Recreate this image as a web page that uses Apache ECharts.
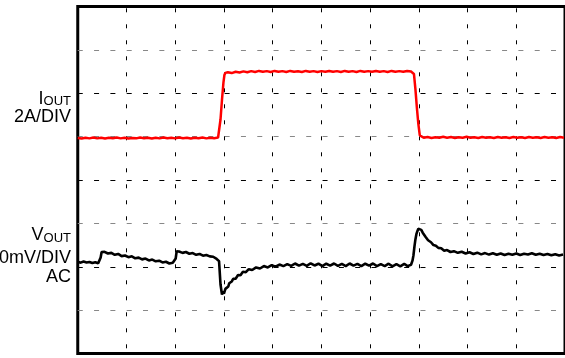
<!DOCTYPE html>
<html>
<head>
<meta charset="utf-8">
<title>Load transient</title>
<script src="https://cdn.jsdelivr.net/npm/echarts@6/dist/echarts.min.js"></script>
<style>
  html, body { margin: 0; padding: 0; background: #fff; }
  #chart { width: 565px; height: 358px; }
</style>
</head>
<body>
<div id="chart"></div>
<script>
// Time axis is in screen divisions (10 across), vertical axis in divisions (8 high).
const TIME_DIVS = 10;
const VERT_DIVS = 8;

// Channel scales and the division each channel's zero sits on.
const AMPS_PER_DIV = 2;      // I_OUT 2A/DIV
const MV_PER_DIV = 20;       // V_OUT 20mV/DIV, AC coupled
const IOUT_ZERO_DIV = 4.97;
const VOUT_ZERO_DIV = 2.29;

// Output current, [time (div), current (A)]
const ioutSamples = [
  [0.00,0.00],[0.08,-0.03],[0.16,0.01],[0.24,-0.02],[0.32,0.02],[0.40,-0.02],[0.48,0.01],
  [0.56,-0.03],[0.64,0.01],[0.72,-0.01],[0.80,0.02],[0.88,-0.02],[0.96,0.01],[1.04,-0.03],
  [1.12,0.00],[1.20,-0.02],[1.28,0.02],[1.36,-0.01],[1.44,0.01],[1.52,-0.03],[1.60,0.01],
  [1.68,-0.02],[1.76,0.02],[1.84,-0.01],[1.92,0.01],[2.00,-0.02],[2.08,0.02],[2.16,-0.01],
  [2.24,0.01],[2.32,-0.03],[2.40,0.01],[2.48,-0.01],[2.56,0.02],[2.64,-0.02],[2.72,0.01],
  [2.80,-0.01],[2.88,0.02],
  [2.90,0.05],[2.93,0.85],[2.96,1.75],[2.99,2.55],[3.01,2.90],[3.03,3.00],
  [3.08,3.03],[3.16,2.99],[3.24,3.05],[3.32,3.02],[3.40,3.07],[3.48,3.03],[3.56,3.08],
  [3.64,3.04],[3.72,3.09],[3.80,3.05],[3.88,3.08],[3.96,3.04],[4.04,3.09],[4.12,3.05],
  [4.20,3.08],[4.28,3.04],[4.36,3.09],[4.44,3.05],[4.52,3.07],[4.60,3.04],[4.68,3.09],
  [4.76,3.05],[4.84,3.08],[4.92,3.04],[5.00,3.08],[5.08,3.05],[5.16,3.09],[5.24,3.05],
  [5.32,3.08],[5.40,3.04],[5.48,3.09],[5.56,3.05],[5.64,3.08],[5.72,3.04],[5.80,3.09],
  [5.88,3.05],[5.96,3.08],[6.04,3.05],[6.12,3.09],[6.20,3.05],[6.28,3.08],[6.36,3.04],
  [6.44,3.09],[6.52,3.05],[6.60,3.08],[6.68,3.05],[6.76,3.09],[6.84,3.06],[6.87,3.07],
  [6.90,2.95],[6.93,2.25],[6.96,1.40],[6.99,0.65],[7.02,0.12],[7.04,0.04],
  [7.10,0.01],[7.18,0.04],[7.26,0.00],[7.34,0.03],[7.42,0.01],[7.50,0.05],[7.58,0.01],
  [7.66,0.04],[7.74,0.00],[7.82,0.03],[7.90,0.01],[7.98,0.05],[8.06,0.01],[8.14,0.03],
  [8.22,0.00],[8.30,0.04],[8.38,0.01],[8.46,0.03],[8.54,0.00],[8.62,0.04],[8.70,0.01],
  [8.78,0.03],[8.86,0.00],[8.94,0.04],[9.02,0.01],[9.10,0.03],[9.18,0.00],[9.26,0.04],
  [9.34,0.01],[9.42,0.03],[9.50,0.00],[9.58,0.04],[9.66,0.01],[9.74,0.03],[9.82,0.00],
  [9.90,0.04],[9.98,0.01]
];

// Output voltage deviation, [time (div), voltage (mV)]
const voutSamples = [
  [0.00,-3.5],[0.03,-3.0],[0.06,-3.9],[0.09,-3.3],[0.12,-3.4],[0.15,-4.0],[0.18,-3.8],
  [0.21,-3.2],[0.24,-3.6],[0.27,-4.3],[0.30,-4.1],[0.33,-3.5],[0.36,-3.7],[0.39,-4.4],
  [0.42,-4.2],[0.45,-4.0],[0.47,-1.5],[0.49,1.0],
  [0.52,1.6],[0.55,1.1],[0.58,0.5],[0.62,0.3],[0.65,1.0],[0.69,0.6],[0.72,-0.1],
  [0.76,-0.3],[0.79,0.5],[0.83,0.1],[0.86,-0.6],[0.90,-0.9],[0.93,-0.2],[0.97,-0.6],
  [1.00,-1.3],[1.04,-1.4],[1.07,-0.7],[1.11,-1.0],[1.14,-1.8],[1.18,-1.9],[1.21,-1.2],
  [1.25,-1.6],[1.28,-2.3],[1.32,-2.4],[1.35,-1.7],[1.39,-2.0],[1.42,-2.8],[1.46,-2.9],
  [1.49,-2.2],[1.53,-2.5],[1.56,-3.3],[1.60,-3.3],[1.63,-2.6],[1.67,-3.0],[1.70,-3.7],
  [1.74,-3.8],[1.77,-3.1],[1.81,-3.5],[1.84,-4.2],[1.88,-4.3],[1.91,-3.7],[1.95,-4.0],
  [1.99,-4.6],[2.01,-2.0],[2.03,1.3],
  [2.06,1.7],[2.08,1.2],[2.12,0.9],[2.15,0.6],[2.18,1.3],[2.22,1.0],[2.25,0.4],
  [2.29,0.2],[2.32,0.9],[2.36,0.5],[2.39,-0.2],[2.43,-0.3],[2.46,0.4],[2.50,0.1],
  [2.53,-0.6],[2.57,-0.7],[2.60,0.0],[2.64,-0.4],[2.67,-1.1],[2.71,-1.0],[2.74,-0.6],
  [2.78,-1.2],[2.81,-1.9],[2.85,-2.2],[2.88,-2.6],
  [2.90,-3.2],[2.93,-14.0],[2.96,-18.6],[2.98,-17.2],[3.00,-18.2],[3.03,-16.0],
  [3.05,-16.6],[3.07,-15.2],[3.09,-14.9],[3.11,-13.4],[3.13,-13.8],[3.16,-12.6],
  [3.19,-11.4],[3.21,-11.0],[3.24,-11.3],[3.26,-10.5],[3.29,-9.6],[3.31,-9.3],
  [3.34,-9.7],[3.36,-8.9],[3.39,-8.1],[3.42,-7.8],[3.45,-8.3],[3.48,-7.6],[3.51,-6.9],
  [3.55,-6.6],[3.58,-7.3],[3.62,-6.8],[3.66,-6.1],[3.70,-5.9],[3.74,-6.6],[3.78,-6.2],
  [3.82,-5.5],[3.86,-5.4],[3.90,-6.1],[3.94,-5.8],[3.98,-5.1],[4.02,-5.0],[4.06,-5.8],
  [4.10,-5.5],[4.14,-4.8],
  [4.18,-4.6],[4.22,-5.5],[4.26,-5.3],[4.30,-4.6],[4.34,-4.5],[4.38,-5.4],[4.42,-5.1],
  [4.46,-4.3],[4.50,-4.4],[4.54,-5.3],[4.58,-5.2],[4.62,-4.5],[4.66,-4.6],[4.70,-5.4],
  [4.74,-5.0],[4.78,-4.2],[4.82,-4.3],[4.86,-5.2],[4.90,-5.1],[4.94,-4.4],[4.98,-4.6],
  [5.02,-5.5],[5.06,-5.3],[5.10,-4.4],[5.14,-4.5],[5.18,-5.3],[5.22,-5.0],[5.26,-4.3],
  [5.30,-4.4],[5.34,-5.4],[5.38,-5.2],[5.42,-4.5],[5.46,-4.7],[5.50,-5.5],[5.54,-5.1],
  [5.58,-4.3],[5.62,-4.4],[5.66,-5.3],[5.70,-5.2],[5.74,-4.5],[5.78,-4.6],[5.82,-5.5],
  [5.86,-5.3],[5.90,-4.4],[5.94,-4.5],[5.98,-5.3],[6.02,-5.0],[6.06,-4.3],[6.10,-4.6],
  [6.14,-5.5],[6.18,-5.4],[6.22,-4.6],[6.26,-4.7],[6.30,-5.5],[6.34,-5.2],[6.38,-4.4],
  [6.42,-4.6],[6.46,-5.6],[6.50,-5.4],[6.54,-4.6],[6.58,-4.8],[6.62,-5.6],[6.66,-5.3],
  [6.70,-4.5],[6.74,-4.7],[6.77,-5.5],[6.80,-5.3],[6.84,-4.9],
  [6.87,-3.0],[6.89,-0.5],[6.91,3.5],[6.93,6.8],[6.95,9.2],[6.97,10.6],[6.99,11.7],
  [7.01,11.8],[7.03,11.0],[7.05,11.2],[7.08,9.9],[7.11,9.4],[7.14,7.9],[7.17,7.6],
  [7.19,6.4],[7.21,6.0],[7.23,6.4],[7.25,5.5],[7.28,4.6],[7.30,4.2],[7.33,4.5],
  [7.35,3.9],[7.38,3.1],[7.40,2.9],[7.43,3.4],[7.46,2.7],[7.49,1.9],[7.52,1.6],
  [7.55,2.3],[7.58,1.9],[7.62,1.2],[7.65,1.0],[7.69,1.7],[7.72,1.4],[7.76,0.7],
  [7.80,0.6],[7.84,1.3],[7.88,1.1],[7.92,0.4],[7.96,0.3],[8.00,1.0],[8.04,0.9],
  [8.08,0.2],[8.12,0.1],[8.16,0.8],[8.20,0.7],[8.24,0.0],[8.28,-0.1],[8.32,0.6],
  [8.36,0.5],[8.40,-0.2],[8.44,-0.2],[8.48,0.5],[8.52,0.4],[8.56,-0.3],[8.60,-0.3],
  [8.64,0.4],[8.68,0.3],[8.72,-0.4],[8.76,-0.4],[8.80,0.3],[8.84,0.2],[8.88,-0.4],
  [8.92,-0.3],[8.96,0.4],[9.00,0.3],[9.04,-0.4],[9.08,-0.4],[9.12,0.3],[9.16,0.2],
  [9.20,-0.4],[9.24,-0.2],[9.28,0.5],[9.32,0.4],[9.36,-0.3],[9.40,-0.3],[9.44,0.3],
  [9.48,0.2],[9.52,-0.5],[9.56,-0.4],[9.60,0.2],[9.64,0.1],[9.68,-0.6],[9.72,-0.5],
  [9.76,0.1],[9.80,0.0],[9.84,-0.7],[9.88,-0.6],[9.92,0.0],[9.96,-0.2]
];

// Channel captions drawn to the left of the screen
const ioutCaption = ['{m|I}{s|OUT}', '2A/DIV'];
const voutCaption = ['{m|V}{s|OUT}', '20mV/DIV', 'AC'];

const toDivCurrent = p => [p[0], IOUT_ZERO_DIV + p[1] / AMPS_PER_DIV];
const toDivVoltage = p => [p[0], VOUT_ZERO_DIV + p[1] / MV_PER_DIV];

const FONT = '"Liberation Sans", Arial, Helvetica, sans-serif';
const richStyles = {
  m: { fontSize: 18, fontFamily: FONT, fill: '#000', lineHeight: 18 },
  s: { fontSize: 13, fontFamily: FONT, fill: '#000', lineHeight: 13, verticalAlign: 'bottom' }
};

function captionLine(text, top) {
  return {
    type: 'text',
    silent: true,
    style: {
      text: text,
      x: 71,
      y: top,
      align: 'right',
      verticalAlign: 'top',
      fontSize: 18,
      fontFamily: FONT,
      fill: '#000',
      rich: richStyles
    }
  };
}

const chart = echarts.init(document.getElementById('chart'), null, { renderer: 'canvas' });

chart.setOption({
  animation: false,
  backgroundColor: '#fff',
  grid: {
    left: 77.75,
    top: 6.5,
    width: 489.5,
    height: 347,
    show: true,
    borderColor: '#000',
    borderWidth: 3,
    backgroundColor: 'transparent'
  },
  xAxis: {
    type: 'value',
    min: 0,
    max: TIME_DIVS,
    interval: 1,
    axisLine: { show: false },
    axisTick: { show: false },
    axisLabel: { show: false },
    splitLine: {
      show: true,
      lineStyle: { color: '#000', width: 1, type: [4, 12], dashOffset: 14.2 }
    }
  },
  yAxis: {
    type: 'value',
    min: 0,
    max: VERT_DIVS,
    interval: 1,
    axisLine: { show: false },
    axisTick: { show: false },
    axisLabel: { show: false },
    splitLine: {
      show: true,
      lineStyle: { color: ['#000', '#888'], width: 1, type: [5, 11.32] }
    }
  },
  series: [
    {
      name: 'IOUT',
      type: 'line',
      data: ioutSamples.map(toDivCurrent),
      showSymbol: false,
      lineStyle: { color: '#ff0000', width: 2.5 },
      itemStyle: { color: '#ff0000' },
      z: 3
    },
    {
      name: 'VOUT',
      type: 'line',
      data: voutSamples.map(toDivVoltage),
      showSymbol: false,
      lineStyle: { color: '#000', width: 2.6 },
      itemStyle: { color: '#000' },
      z: 4
    }
  ],
  graphic: [
    captionLine(ioutCaption[0], 90),
    captionLine(ioutCaption[1], 108.5),
    captionLine(voutCaption[0], 226.5),
    captionLine(voutCaption[1], 249),
    captionLine(voutCaption[2], 268.5)
  ]
});
</script>
</body>
</html>
